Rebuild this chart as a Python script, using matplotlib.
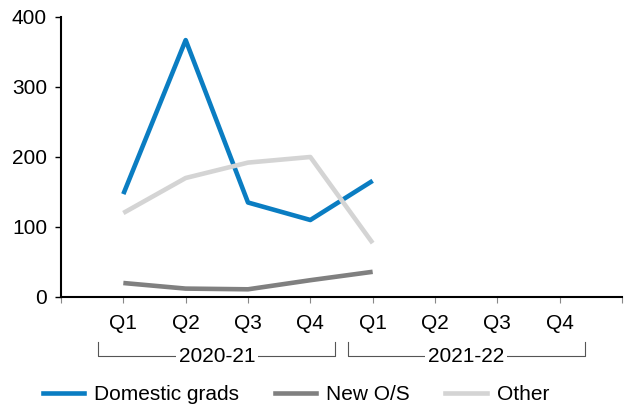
import matplotlib.pyplot as plt
from matplotlib.lines import Line2D

plt.rcParams['font.family'] = ['Liberation Sans', 'DejaVu Sans']

quarters = ['Q1', 'Q2', 'Q3', 'Q4', 'Q1', 'Q2', 'Q3', 'Q4']
years = ['2020-21', '2021-22']
domestic = [147, 367, 135, 110, 166]
new_os = [20, 12, 11, 24, 36]
other = [120, 170, 192, 200, 77]

fig = plt.figure(figsize=(6.25, 4.12), dpi=100)
ax = fig.add_axes([61/625, 1-297/412, 561/625, 280/412])

x = list(range(1, len(domestic) + 1))
ax.plot(x, domestic, color='#0a7dc2', lw=3.3, solid_capstyle='butt', label='Domestic grads')
ax.plot(x, new_os, color='#808080', lw=3.3, solid_capstyle='butt', label='New O/S')
ax.plot(x, other, color='#d4d4d4', lw=3.3, solid_capstyle='butt', label='Other')

ax.set_xlim(0, 9)
ax.set_ylim(0, 400)
ax.set_yticks([0, 100, 200, 300, 400])
ax.set_xticks(range(0, 10))
ax.set_xticklabels([''] + quarters + [''])
ax.tick_params(axis='x', length=4, width=0.8, color='#888888', labelsize=15, pad=8)
ax.tick_params(axis='y', length=4, width=1, labelsize=15, pad=6)
for s in ['top', 'right']:
    ax.spines[s].set_visible(False)
ax.spines['left'].set_linewidth(1.5)
ax.spines['bottom'].set_linewidth(1.5)

# year brackets under the quarter labels
trans = ax.get_xaxis_transform()
for i, yr in enumerate(years):
    x0 = 0.6 + 4 * i
    x1 = 4.4 + 4 * i
    ytop = -(342 - 297) / 280
    ybot = -(356 - 297) / 280
    ax.plot([x0, x0, x1, x1], [ytop, ybot, ybot, ytop], transform=trans,
            color='#555555', lw=0.8, clip_on=False)
    ax.text((x0 + x1) / 2, ybot, yr, transform=trans, ha='center', va='center',
            fontsize=15, bbox=dict(facecolor='white', edgecolor='none', pad=2))

handles = [Line2D([], [], color='#0a7dc2', lw=3.3),
           Line2D([], [], color='#808080', lw=3.3),
           Line2D([], [], color='#d4d4d4', lw=3.3)]
fig.legend(handles, ['Domestic grads', 'New O/S', 'Other'], loc='center',
           bbox_to_anchor=(296/625, 1 - 395/412), ncol=3, frameon=False,
           fontsize=15, handlelength=2.0, columnspacing=1.7, handletextpad=0.48)

plt.savefig('out.png', dpi=100)
